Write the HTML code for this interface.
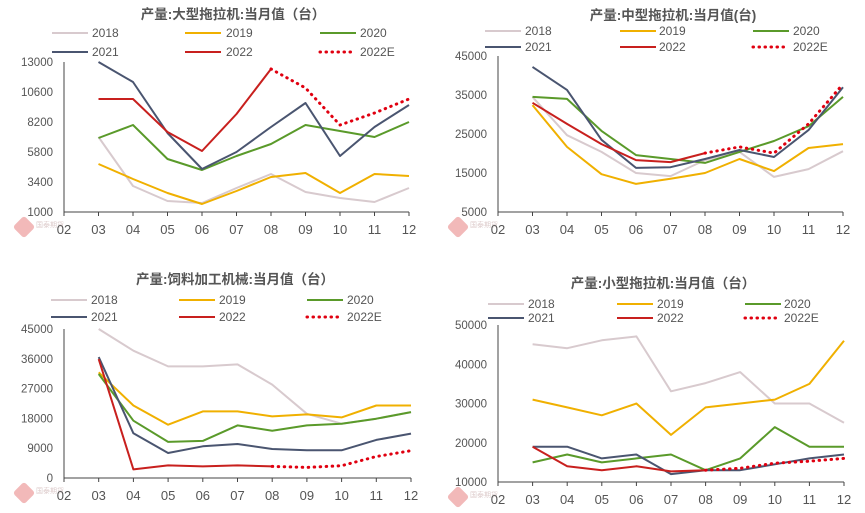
<!DOCTYPE html>
<html><head><meta charset="utf-8"><style>
html,body{margin:0;padding:0;background:#fff}
svg{display:block;font-family:"Liberation Sans","Noto Sans CJK SC",sans-serif}
</style></head><body>
<svg id="svg" width="865" height="513" viewBox="0 0 865 513"></svg>
<script>
const months = ["02","03","04","05","06","07","08","09","10","11","12"];
const seriesNames = ["2018","2019","2020","2021","2022","2022E"];
// Chart 1: large tractors
const c1Ticks = [1000,3400,5800,8200,10600,13000];
const c1_2018 = [7000,3080,1880,1720,2920,4040,2600,2120,1800,2920];
const c1_2019 = [4840,3640,2520,1640,2680,3800,4120,2520,4040,3880];
const c1_2020 = [6920,7960,5240,4360,5480,6440,7960,7480,7000,8200];
const c1_2021 = [13000,11400,7320,4440,5800,7800,9720,5480,7800,9560];
const c1_2022 = [10040,10040,7400,5880,8840,12440];
const c1_2022E = [12440,10920,7960,8920,10040];
// Chart 2: medium tractors
const c2Ticks = [5000,15000,25000,35000,45000];
const c2_2018 = [34500,24700,20400,15000,14200,18300,20400,14000,16000,20600];
const c2_2019 = [32400,21700,14700,12200,13500,15000,18600,15500,21400,22400];
const c2_2020 = [34500,34000,25800,19600,18600,17600,20400,23200,27000,34500];
const c2_2021 = [42200,36300,23500,16300,16500,18600,20900,19100,26000,37000];
const c2_2022 = [33000,27600,22400,18300,17800,20100];
const c2_2022E = [20100,21700,20100,27600,37800];
// Chart 3: feed machinery
const c3Ticks = [0,9000,18000,27000,36000,45000];
const c3_2018 = [45000,38450,33700,33700,34300,28200,19400,16400,17900,19900];
const c3_2019 = [31900,21900,16100,20100,20100,18600,19200,18300,21900,21900];
const c3_2020 = [31400,17300,10900,11200,15900,14300,15900,16400,17900,19900];
const c3_2021 = [36500,13500,7550,9560,10270,8760,8360,8360,11500,13400];
const c3_2022 = [35900,2600,3800,3500,3800,3500];
const c3_2022E = [3500,3200,3700,6500,8250];
// Chart 4: small tractors
const c4Ticks = [10000,20000,30000,40000,50000];
const c4_2018 = [45100,44100,46100,47100,33100,35200,38000,30000,30000,25100];
const c4_2019 = [31000,29000,27000,30000,22000,29000,30000,31000,35000,46000];
const c4_2020 = [15000,17000,15000,16000,17000,13000,16000,24000,19000,19000];
const c4_2021 = [19000,19000,16000,17000,12000,13000,13000,14500,16000,17000];
const c4_2022 = [19000,14000,13000,14000,12700,13000];
const c4_2022E = [13000,13500,14800,15300,16000];

const colors = ["#d8cace","#f0b000","#5a9a2a","#4a5570","#c8201e","#e00010"];
const NS = "http://www.w3.org/2000/svg";
const svg = document.getElementById("svg");
function mk(tag, attrs, parent){const e=document.createElementNS(NS,tag);for(const k in attrs)e.setAttribute(k,attrs[k]);(parent||svg).appendChild(e);return e;}

const charts = [
 {id:"large-tractor",title:"产量:大型拖拉机:当月值（台）",tx:233,ty:19,x0:64,x1:409,yTop:62,yBot:212,ticks:c1Ticks,
  data:[c1_2018,c1_2019,c1_2020,c1_2021,c1_2022,c1_2022E],leg:[[52,92],[185,226],[320,360]],legY:[33,52],labY:234},
 {id:"medium-tractor",title:"产量:中型拖拉机:当月值(台)",tx:673,ty:20,x0:498,x1:843,yTop:56,yBot:212,ticks:c2Ticks,
  data:[c2_2018,c2_2019,c2_2020,c2_2021,c2_2022,c2_2022E],leg:[[485,525],[620,659],[753,793]],legY:[31,47],labY:234},
 {id:"feed-machinery",title:"产量:饲料加工机械:当月值（台）",tx:235,ty:284,x0:64,x1:411,yTop:329,yBot:478,ticks:c3Ticks,
  data:[c3_2018,c3_2019,c3_2020,c3_2021,c3_2022,c3_2022E],leg:[[51,91],[179,219],[307,347]],legY:[300,317],labY:500},
 {id:"small-tractor",title:"产量:小型拖拉机:当月值（台）",tx:663,ty:288,x0:498,x1:844,yTop:325,yBot:482,ticks:c4Ticks,
  data:[c4_2018,c4_2019,c4_2020,c4_2021,c4_2022,c4_2022E],leg:[[488,528],[617,657],[745,784]],legY:[304,318],labY:504}
];

charts.forEach(c=>{
  const g = mk("g",{});
  
  
  const yMin=c.ticks[0], yMax=c.ticks[c.ticks.length-1];
  const step=(c.x1-c.x0)/(months.length-1);
  const xs=i=>c.x0+i*step;
  const ys=v=>c.yBot-(v-yMin)/(yMax-yMin)*(c.yBot-c.yTop);
  const wm=mk("g",{opacity:"0.55"},g);
  
  
  mk("rect",{x:c.x0-48,y:c.yBot+7,width:16,height:16,rx:3,fill:"#e88080",transform:`rotate(45 ${c.x0-40} ${c.yBot+15})`},wm);
  const wt=mk("text",{x:c.x0-28,y:c.yBot+15,"font-size":"7",fill:"#c0a0a0"},wm);wt.textContent="国泰期货";
  const t=mk("text",{x:c.tx,y:c.ty,"text-anchor":"middle","font-size":"13.5","font-weight":"bold",fill:"#555"},g);
  t.textContent=c.title;
  
  
  seriesNames.forEach((n,i)=>{
    const col=i%3,row=Math.floor(i/3);
    const lx=c.leg[col][0],tx=c.leg[col][1],ly=c.legY[row];
    const lg=mk("g",{},g);
    
    
    mk("line",{x1:lx,x2:lx+36,y1:ly,y2:ly,stroke:colors[i],"stroke-width":i==5?3:2,"stroke-dasharray":i==5?"0.5 5.5":"none","stroke-linecap":i==5?"round":"butt"},lg);
    const lt=mk("text",{x:tx,y:ly+4,"font-size":"12",fill:"#555"},lg);lt.textContent=n;
  });
  c.ticks.forEach(v=>{
    const yt=mk("text",{x:c.x0-11,y:ys(v)+4,"text-anchor":"end","font-size":"11.5",fill:"#555"},g);
    yt.textContent=v;
    
    
  });
  const ya=mk("line",{x1:c.x0,x2:c.x0,y1:c.yTop,y2:c.yBot,stroke:"#444","stroke-width":1},g);
  
  const xa=mk("line",{x1:c.x0,x2:c.x1,y1:c.yBot,y2:c.yBot,stroke:"#444","stroke-width":1},g);
  
  months.forEach((m,i)=>{
    mk("line",{x1:xs(i),x2:xs(i),y1:c.yBot,y2:c.yBot+4,stroke:"#444"},g);
    const xt=mk("text",{x:xs(i),y:c.labY,"text-anchor":"middle","font-size":"13",fill:"#555"},g);
    xt.textContent=m;
    
    
  });
  c.data.forEach((arr,i)=>{
    const off = i==5 ? 6 : 1;
    const pts=arr.map((v,j)=>xs(j+off).toFixed(1)+","+ys(v).toFixed(1)).join(" ");
    const p=mk("polyline",{points:pts,fill:"none",stroke:colors[i],"stroke-width":i==5?3:2,"stroke-linejoin":"round",
      "stroke-dasharray":i==5?"0.5 5.5":"none","stroke-linecap":i==5?"round":"butt"},g);
    
    
  });
});
</script>
</body></html>
